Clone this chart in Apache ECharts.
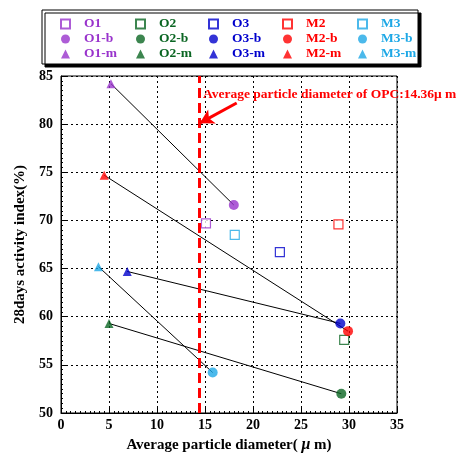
<!DOCTYPE html>
<html>
<head>
<meta charset="utf-8">
<script src="https://cdn.jsdelivr.net/npm/echarts@6/dist/echarts.min.js"></script>
<style>html,body{margin:0;padding:0;background:#fff}#c{width:456px;height:458px}</style>
</head>
<body>
<div id="c"></div>
<script>
// ---- data ----
const categories = ['O1', 'O2', 'O3', 'M2', 'M3'];
const colors = ['#9933cc', '#0b6623', '#0000cc', '#ff0000', '#1ea8e6'];
const plainX = [15.1, 29.5, 22.8, 28.9, 18.1];
const plainY = [69.7, 57.6, 66.7, 69.6, 68.5];
const bX = [18.0, 29.2, 29.1, 29.9, 15.8];
const bY = [71.6, 52.0, 59.3, 58.5, 54.2];
const mX = [5.2, 5.0, 6.9, 4.5, 3.9];
const mY = [84.2, 59.3, 64.7, 74.7, 65.2];
const opcDiameter = 14.36;
const xTicks = [0, 5, 10, 15, 20, 25, 30, 35];
const yTicks = [50, 55, 60, 65, 70, 75, 80, 85];

const FONT = 'Liberation Serif';
const chart = echarts.init(document.getElementById('c'));

const series = [];
const legends = [];
const legendLeft = [60, 135, 208, 282, 357];

categories.forEach((cat, i) => {
  const c = colors[i];
  series.push({
    type: 'line', name: cat + '-line', z: 2, silent: true,
    symbol: 'none', lineStyle: { color: '#000', width: 1 },
    data: [[mX[i], mY[i]], [bX[i], bY[i]]]
  });
  series.push({
    type: 'scatter', name: cat, z: 4, symbol: 'rect', symbolSize: 9,
    itemStyle: { color: '#fff', borderColor: c, borderWidth: 1.2 },
    data: [[plainX[i], plainY[i]]]
  });
  series.push({
    type: 'scatter', name: cat + '-b', z: 4, symbol: 'circle', symbolSize: 10,
    itemStyle: { color: c },
    data: [[bX[i], bY[i]]]
  });
  series.push({
    type: 'scatter', name: cat + '-m', z: 4, symbol: 'triangle', symbolSize: 9,
    itemStyle: { color: c },
    data: [[mX[i], mY[i]]]
  });
  legends.push({
    orient: 'vertical', left: legendLeft[i], top: 17, padding: 0,
    itemWidth: 9, itemHeight: 9, itemGap: 1,
    selectedMode: false,
    textStyle: { fontFamily: FONT, fontWeight: 'bold', fontSize: 13.5, lineHeight: 14, color: c, padding: [0, 0, 0, 9] },
    data: [cat, cat + '-b', cat + '-m'].map(n => ({ name: n }))
  });
});

series.push({
  type: 'line', name: 'opc', z: 3, silent: true, data: [],
  markLine: {
    silent: true, symbol: 'none', animation: false,
    label: { show: false },
    lineStyle: { color: '#ff0000', width: 3, type: [10, 5] },
    data: [{ xAxis: opcDiameter }]
  }
});
series.push({
  type: 'line', name: 'arrow', z: 5, silent: true, data: [],
  markLine: {
    silent: true, symbol: ['none', 'arrow'], symbolSize: [12, 14], animation: false,
    label: { show: false },
    lineStyle: { color: '#ff0000', width: 3, type: 'solid' },
    data: [[{ coord: [18.3, 82.2] }, { coord: [14.45, 80.1] }]]
  }
});

const gridLine = { show: true, lineStyle: { color: '#000', type: [2, 3], width: 1 } };
const axisLabel = { fontFamily: FONT, fontWeight: 'bold', fontSize: 14, color: '#000' };

chart.setOption({
  animation: false,
  backgroundColor: '#fff',
  grid: { left: 61, top: 76, right: 59, bottom: 45, show: true, borderColor: '#000', borderWidth: 1, backgroundColor: 'transparent' },
  legend: legends,
  xAxis: {
    type: 'value', min: xTicks[0], max: xTicks[xTicks.length - 1], interval: 5,
    name: 'Average particle diameter( {i|μ} m)', nameLocation: 'middle', nameGap: 23,
    nameTextStyle: { fontFamily: FONT, fontWeight: 'bold', fontSize: 15, color: '#000',
      rich: { i: { fontFamily: FONT, fontWeight: 'bold', fontStyle: 'italic', fontSize: 16, color: '#000' } } },
    axisLine: { lineStyle: { color: '#000', width: 1 } },
    axisTick: { inside: true, length: 5, lineStyle: { color: '#000' } },
    minorTick: { show: true, splitNumber: 10, length: 2, lineStyle: { color: '#000' } },
    axisLabel: Object.assign({ margin: 5 }, axisLabel),
    splitLine: gridLine
  },
  yAxis: {
    type: 'value', min: yTicks[0], max: yTicks[yTicks.length - 1], interval: 5,
    name: '28days activity index(%)', nameLocation: 'middle', nameGap: 33,
    nameTextStyle: { fontFamily: FONT, fontWeight: 'bold', fontSize: 15, color: '#000' },
    axisLine: { show: true, lineStyle: { color: '#000', width: 1 } },
    axisTick: { show: true, inside: true, length: 5, lineStyle: { color: '#000' } },
    minorTick: { show: true, splitNumber: 10, length: 2, lineStyle: { color: '#000' } },
    axisLabel: Object.assign({ margin: 8 }, axisLabel),
    splitLine: gridLine
  },
  graphic: [
    { type: 'rect', z: -1, shape: { x: 42, y: 10, width: 376, height: 54 },
      style: { fill: '#fff', stroke: '#000', lineWidth: 1, shadowColor: '#000', shadowOffsetX: 3, shadowOffsetY: 3, shadowBlur: 0 } },
    { type: 'text', z: 10, left: 203, top: 88,
      style: { text: 'Average particle diameter of OPC:14.36μ m', fill: '#ff0000',
        font: 'bold 13.5px "Liberation Serif"' } }
  ],
  series: series
});
</script>
</body>
</html>
